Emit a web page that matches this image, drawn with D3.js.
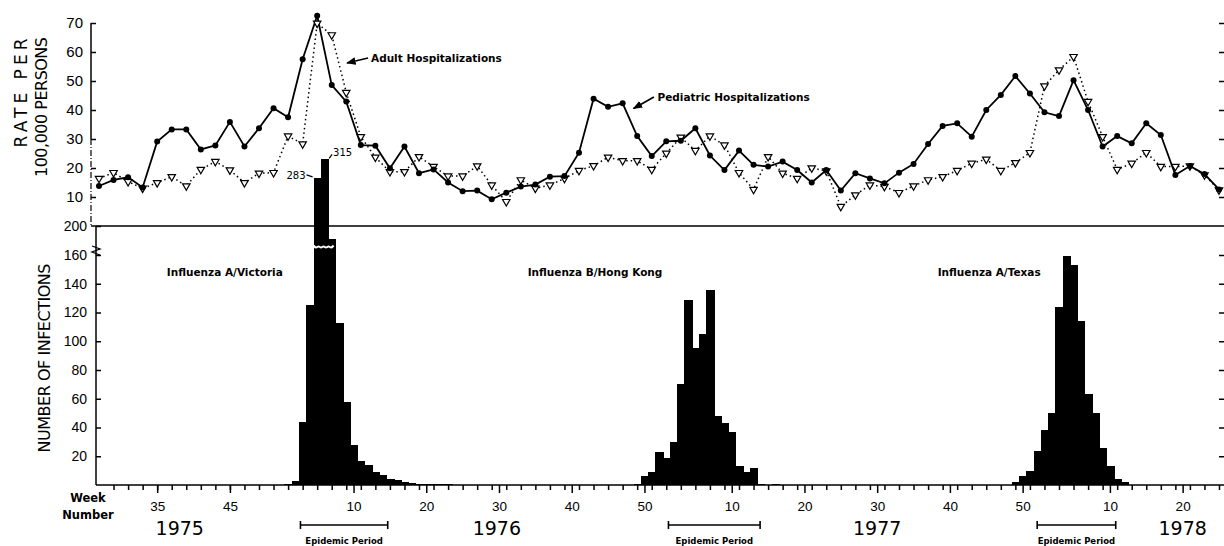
<!DOCTYPE html>
<html>
<head>
<meta charset="utf-8">
<script src="https://cdn.jsdelivr.net/npm/d3@7/dist/d3.min.js"></script>
<style>
  body { margin: 0; background: #fff; }
  svg { display: block; font-family: "DejaVu Sans", sans-serif; }
  .tick text { font-size: 14px; fill: #000; }
  .tick line { stroke: #000; stroke-width: 1.5; }
</style>
</head>
<body>
<svg id="flu-chart" width="1224" height="546"></svg>
<script>
// weeks are counted from week 1 of 1975 (1976 week 10 = 62, 1977 week 10 = 114 ...)

// hospitalization rate per 100,000, one point every 2 weeks
const rateStartWeek = 27;
const pediatricRate = [13.8, 15.9, 16.8, 13.3, 29.1, 33.3, 33.3, 26.4, 27.8, 35.9,
    27.4, 33.7, 40.6, 37.5, 57.5, 72.5, 48.6, 42.9, 27.9, 27.7,
    19.9, 27.4, 18.2, 19.5, 15, 12, 12.2, 9.2, 11.5, 13.6,
    14.3, 17, 17.2, 25.3, 43.9, 41.1, 42.3, 31, 24.1, 29.2,
    29.4, 33.7, 24.3, 19.3, 26, 21.1, 20.5, 22.2, 19.3, 15,
    19.3, 12.2, 18.2, 16.4, 14.7, 18.4, 21.4, 28.3, 34.5, 35.4,
    30.8, 40, 45.2, 51.7, 45.7, 39.2, 37.9, 50.3, 40, 27.4,
    31, 28.5, 35.4, 31.4, 17.6, 20.7, 17.9, 12.6];
const adultRate = [16.4, 18.4, 15.3, 13, 14.9, 17, 13.8, 19.5, 22.2, 19.3,
    14.9, 18.2, 18.4, 31, 28.3, 69.9, 65.9, 46, 30.8, 23.7,
    18.7, 18.7, 23.9, 20.5, 17.2, 17.2, 20.7, 14.1, 8.4, 15.9,
    13, 14.1, 16.4, 19.1, 20.8, 23.7, 22.5, 22.5, 19.5, 25.1,
    30.6, 26, 31, 27.9, 18.4, 12.6, 23.9, 18.2, 16.4, 20,
    19, 6.7, 10.7, 14.1, 13.6, 11.5, 13.8, 15.9, 17, 19.1,
    21.6, 23, 19.1, 21.8, 25.3, 48.3, 53.8, 58.4, 42.9, 30.8,
    19.5, 21.6, 25.3, 20.5, 20.5, 20.7, 17.6, 12.4];

// weekly number of infections
const victoriaStart = 53;
const victoriaCounts = [1, 2.5, 44, 125, 283, 315, 182, 113, 58, 28, 17, 14, 9, 7, 4, 3.5, 2, 1.5, 1, 1, 0.5, 1, 0.5];
const hongKongStart = 101;
const hongKongCounts = [1, 6, 9, 23, 19, 30, 70, 129, 95, 105, 136, 48, 43, 37, 13, 9, 12, 1, 0, 1];
const texasStart = 153;
const texasCounts = [2, 6, 10, 24, 38, 50, 124, 159, 153, 114, 63, 50, 26, 13, 4, 2];

const strainNames = ['Influenza A/Victoria', 'Influenza B/Hong Kong', 'Influenza A/Texas'];
const strainWeeks = [44.3, 95.2, 149.4];
const epidemicPeriods = [[54.7, 66.7], [105.3, 117.9], [156, 166.8]];

const weekTicks = [35, 45, 62, 72, 82, 92, 102, 114, 124, 134, 144, 154, 166, 176];
const weekLabels = ['35', '45', '10', '20', '30', '40', '50', '10', '20', '30', '40', '50', '10', '20'];
const yearLabels = ['1975', '1976', '1977', '1978'];
const yearWeeks = [38.1, 81.7, 134, 176];

const rateTicks = [10, 20, 30, 40, 50, 60, 70];
const countTicks = [20, 40, 60, 80, 100, 120, 140, 160];

let svg = d3.select('#flu-chart');

let x = d3.scaleLinear().domain([27, 181]).range([99, 1219]);
let yRate = d3.scaleLinear().domain([0, 70]).range([226, 23]);
// broken axis: 0-160 then compressed above the break
let yCount = d3.scaleLinear().domain([0, 160, 200, 400]).range([485, 255, 226, 110]);

let base = yCount(0);

// ---- axes ----
let rateAxis = svg.append('g')
    .attr('transform', 'translate(91,0)')
    .call(d3.axisLeft(yRate).tickValues(rateTicks).tickSizeInner(-5).tickSizeOuter(0).tickPadding(8));
rateAxis.select('.domain').remove();
rateAxis.selectAll('text').style('font-size', '15px');

svg.append('line').attr('x1', 91).attr('x2', 91).attr('y1', yRate(70)).attr('y2', yRate(30))
    .attr('stroke', '#000').attr('stroke-width', 1.5);
svg.append('line').attr('x1', 91).attr('x2', 91).attr('y1', yRate(30)).attr('y2', yRate(0))
    .attr('stroke', '#000').attr('stroke-width', 1.2).attr('stroke-dasharray', '6,2,1,2');

let countAxis = svg.append('g')
    .attr('transform', 'translate(96,0)')
    .call(d3.axisLeft(yCount).tickValues(countTicks.concat([200])).tickSizeInner(-5).tickSizeOuter(0).tickPadding(9));
countAxis.select('.domain').remove();

svg.append('line').attr('x1', 96).attr('x2', 96).attr('y1', yCount(200)).attr('y2', base)
    .attr('stroke', '#000').attr('stroke-width', 1.5);
// break mark on the count axis
svg.append('path')
    .attr('d', 'M92,246 L100,249 L92,252 L100,255')
    .attr('fill', 'none').attr('stroke', '#000').attr('stroke-width', 1.3);

// right side ticks
[[yRate, rateTicks], [yCount, countTicks]].forEach(([scale, vals]) => {
    let g = svg.append('g')
        .attr('transform', 'translate(1224,0)')
        .call(d3.axisLeft(scale).tickValues(vals).tickSize(5).tickFormat(''));
    g.select('.domain').remove();
});

// zero line of the rate panel / 200 line of count panel
svg.append('line').attr('x1', 91).attr('x2', 1224).attr('y1', yRate(0)).attr('y2', yRate(0))
    .attr('stroke', '#000').attr('stroke-width', 1.6);

// week axis
svg.append('g')
    .attr('transform', `translate(0,${base})`)
    .call(d3.axisBottom(x).tickValues(d3.range(29, 182, 2)).tickSize(5).tickFormat(''))
    .select('.domain').remove();

let weekAxis = svg.append('g')
    .attr('transform', `translate(0,${base})`)
    .call(d3.axisBottom(x).tickValues(weekTicks).tickFormat((d, i) => weekLabels[i]).tickSize(8).tickPadding(8));
weekAxis.select('.domain').remove();
weekAxis.selectAll('text').style('font-size', '13.5px');

svg.append('line').attr('x1', 96).attr('x2', 1224).attr('y1', base).attr('y2', base)
    .attr('stroke', '#000').attr('stroke-width', 1.6);

svg.append('text').attr('x', 88).attr('y', 502).attr('text-anchor', 'middle')
    .style('font-size', '11.5px').style('font-weight', 'bold').text('Week');
svg.append('text').attr('x', 88).attr('y', 519).attr('text-anchor', 'middle')
    .style('font-size', '11.5px').style('font-weight', 'bold').text('Number');

svg.selectAll('.year')
    .data(yearLabels)
    .enter()
    .append('text')
        .attr('class', 'year')
        .attr('x', (d, i) => x(yearWeeks[i]))
        .attr('y', 535)
        .attr('text-anchor', 'middle')
        .style('font-size', '19px')
        .text(d => d);

// axis titles
svg.append('text').attr('transform', 'translate(27,93) rotate(-90)')
    .attr('text-anchor', 'middle').attr('textLength', 109)
    .style('font-size', '17px').text('RATE PER');
svg.append('text').attr('transform', 'translate(47,107) rotate(-90)')
    .attr('text-anchor', 'middle').attr('textLength', 140)
    .style('font-size', '16px').text('100,000 PERSONS');
svg.append('text').attr('transform', 'translate(50,358) rotate(-90)')
    .attr('text-anchor', 'middle').attr('textLength', 189)
    .style('font-size', '16px').text('NUMBER OF INFECTIONS');

// ---- infection histogram ----
let epidemics = [
    { start: victoriaStart, counts: victoriaCounts },
    { start: hongKongStart, counts: hongKongCounts },
    { start: texasStart, counts: texasCounts }
];
let bars = epidemics.flatMap(e => e.counts.map((c, i) => ({ week: e.start + i, count: c })));

svg.append('g')
    .attr('shape-rendering', 'crispEdges')
    .selectAll('rect')
    .data(bars)
    .enter()
    .append('rect')
        .attr('x', d => x(d.week - 0.5))
        .attr('width', d => x(d.week + 0.5) - x(d.week - 0.5) + 1)
        .attr('y', d => yCount(d.count))
        .attr('height', d => base - yCount(d.count))
        .attr('fill', '#000');

// white wavy break across the tallest bars
let breakBars = bars.filter(d => d.count > 170);
let bx0 = x(d3.min(breakBars, d => d.week) - 0.5);
let bx1 = x(d3.max(breakBars, d => d.week) + 0.5);
let wave = d3.range(bx0, bx1 + 0.1, 2.5).map((px, i) => [px, 247 + (i % 2 ? 1.5 : -1.5)]);
svg.append('path')
    .attr('d', d3.line().curve(d3.curveBasis)(wave))
    .attr('fill', 'none').attr('stroke', '#fff').attr('stroke-width', 2);

// value labels of the two clipped-scale bars
let peakBars = bars.filter(d => d.count > 250);
svg.append('text')
    .attr('x', x(peakBars[0].week - 0.5) - 8)
    .attr('y', yCount(peakBars[0].count) + 1)
    .attr('text-anchor', 'end')
    .style('font-size', '10px')
    .text(peakBars[0].count);
svg.append('line')
    .attr('x1', x(peakBars[0].week - 0.5) - 7).attr('x2', x(peakBars[0].week - 0.5) - 1)
    .attr('y1', yCount(peakBars[0].count) - 3).attr('y2', yCount(peakBars[0].count) - 1)
    .attr('stroke', '#000').attr('stroke-width', 1.2);
svg.append('text')
    .attr('x', x(peakBars[1].week + 0.5) + 5)
    .attr('y', yCount(peakBars[1].count) - 3)
    .style('font-size', '10px')
    .text(peakBars[1].count);
svg.append('line')
    .attr('x1', x(peakBars[1].week + 0.5) + 1).attr('x2', x(peakBars[1].week + 0.5) + 4)
    .attr('y1', yCount(peakBars[1].count) - 1).attr('y2', yCount(peakBars[1].count) - 5)
    .attr('stroke', '#000').attr('stroke-width', 1.2);

svg.selectAll('.strain')
    .data(strainNames)
    .enter()
    .append('text')
        .attr('class', 'strain')
        .attr('x', (d, i) => x(strainWeeks[i]))
        .attr('y', yCount(148) + 4)
        .attr('text-anchor', 'middle')
        .style('font-size', '10.5px')
        .style('font-weight', 'bold')
        .text(d => d);

// epidemic period brackets
let periods = svg.append('g')
    .selectAll('g')
    .data(epidemicPeriods)
    .enter()
    .append('g');
periods.append('path')
    .attr('d', d => `M${x(d[0])},521 V529 M${x(d[0])},525 H${x(d[1])} M${x(d[1])},521 V529`)
    .attr('fill', 'none').attr('stroke', '#000').attr('stroke-width', 1.6);
periods.append('text')
    .attr('x', d => x((d[0] + d[1]) / 2))
    .attr('y', 544)
    .attr('text-anchor', 'middle')
    .style('font-size', '8.5px')
    .style('font-weight', 'bold')
    .text('Epidemic Period');

// ---- hospitalization lines ----
let rateLine = d3.line()
    .x((d, i) => x(rateStartWeek + 2 * i))
    .y(d => yRate(d));

svg.append('path')
    .attr('d', rateLine(adultRate))
    .attr('fill', 'none').attr('stroke', '#000').attr('stroke-width', 1.5)
    .attr('stroke-dasharray', '1.5,3');

svg.append('path')
    .attr('d', rateLine(pediatricRate))
    .attr('fill', 'none').attr('stroke', '#000').attr('stroke-width', 1.8);

svg.append('g')
    .selectAll('path')
    .data(adultRate)
    .enter()
    .append('path')
        .attr('d', d3.symbol(d3.symbolTriangle).size(24))
        .attr('transform', (d, i) => `translate(${x(rateStartWeek + 2 * i)},${yRate(d)}) rotate(180)`)
        .attr('fill', '#fff').attr('stroke', '#000').attr('stroke-width', 1.2);

svg.append('g')
    .selectAll('circle')
    .data(pediatricRate)
    .enter()
    .append('circle')
        .attr('cx', (d, i) => x(rateStartWeek + 2 * i))
        .attr('cy', d => yRate(d))
        .attr('r', 3)
        .attr('fill', '#000');

// line labels with arrows
svg.append('defs').append('marker')
    .attr('id', 'arrow')
    .attr('viewBox', '0 0 10 10')
    .attr('refX', 9).attr('refY', 5)
    .attr('markerWidth', 6).attr('markerHeight', 6)
    .attr('orient', 'auto')
    .append('path').attr('d', 'M0,1 L10,5 L0,9 Z').attr('fill', '#000');

let notes = [
    { text: 'Adult Hospitalizations', week: 64.4, value: 57.9, fromWeek: 64, toWeek: 61.1, toValue: 56.2 },
    { text: 'Pediatric Hospitalizations', week: 103.8, value: 44.5, fromWeek: 103.3, toWeek: 100.5, toValue: 40.5 }
];
notes.forEach(n => {
    svg.append('text')
        .attr('x', x(n.week))
        .attr('y', yRate(n.value) + 4)
        .style('font-size', '10.5px')
        .style('font-weight', 'bold')
        .text(n.text);
    svg.append('line')
        .attr('x1', x(n.fromWeek)).attr('y1', yRate(n.value))
        .attr('x2', x(n.toWeek)).attr('y2', yRate(n.toValue))
        .attr('stroke', '#000').attr('stroke-width', 1.6)
        .attr('marker-end', 'url(#arrow)');
});
</script>
</body>
</html>
